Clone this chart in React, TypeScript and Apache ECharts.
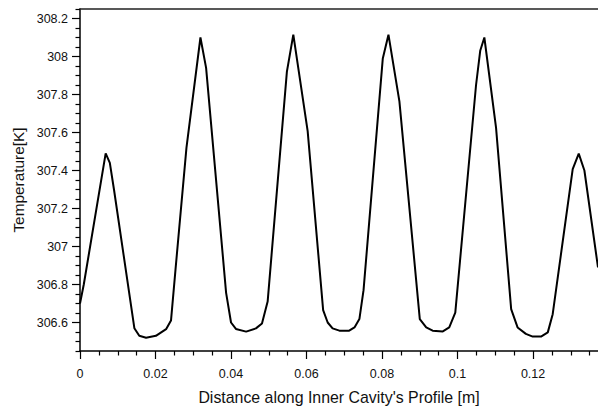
import React, { useEffect, useRef } from "react";
import * as echarts from "echarts";

// Distance along profile [m]
const distance: number[] = [
  0.0, 0.001, 0.0068, 0.0079, 0.009, 0.0144, 0.0157, 0.0175, 0.0201, 0.0228, 0.0241,
  0.0253, 0.0282, 0.0319, 0.0334, 0.0387, 0.04, 0.0413, 0.044, 0.0466, 0.0482, 0.0497,
  0.0548, 0.0565, 0.0603, 0.0644, 0.0656, 0.0669, 0.0687, 0.0713, 0.0727, 0.074, 0.0751,
  0.0802, 0.0817, 0.0846, 0.09, 0.0917, 0.0934, 0.0961, 0.0978, 0.0994,
  0.1049, 0.106, 0.1071, 0.1102, 0.1142, 0.1159, 0.1181, 0.1199, 0.1221, 0.1239, 0.1252,
  0.1305, 0.1321, 0.1336, 0.1372,
];
// Temperature [K]
const temperature: number[] = [
  306.7, 306.8, 307.49, 307.44, 307.3, 306.57, 306.53, 306.52, 306.53, 306.565, 306.61,
  306.88, 307.52, 308.1, 307.94, 306.756, 306.6, 306.566, 306.552, 306.569, 306.595, 306.71,
  307.92, 308.115, 307.607, 306.665, 306.6, 306.569, 306.557, 306.557, 306.574, 306.618, 306.77,
  307.99, 308.115, 307.764, 306.618, 306.574, 306.557, 306.553, 306.574, 306.652,
  307.85, 308.03, 308.1, 307.624, 306.67, 306.574, 306.54, 306.526, 306.526, 306.548, 306.644,
  307.407, 307.489, 307.4, 306.89,
];

const xMajorTicks: number[] = [0, 0.02, 0.04, 0.06, 0.08, 0.1, 0.12];
const yMajorTicks: number[] = [306.6, 306.8, 307, 307.2, 307.4, 307.6, 307.8, 308, 308.2];

const X_MIN = 0;
const X_MAX = 0.1372;
const Y_MIN = 306.45;
const Y_MAX = 308.25;

function minorValues(min: number, max: number, step: number, majors: number[]): number[] {
  const out: number[] = [];
  const n = Math.round((max - min) / step);
  for (let i = 0; i <= n; i++) {
    const v = Math.round((min + i * step) * 10000) / 10000;
    if (v > max + 1e-9) break;
    if (!majors.some((m) => Math.abs(m - v) < 1e-9)) out.push(v);
  }
  return out;
}

const FONT = "'Liberation Sans', Arial, Helvetica, sans-serif";

export default function App() {
  const ref = useRef<HTMLDivElement>(null);

  useEffect(() => {
    if (!ref.current) return;
    const chart = echarts.init(ref.current, null, { renderer: "svg" });
    const data = distance.map((d, i) => [d, temperature[i]]);
    const xMinor = minorValues(0, 0.135, 0.005, xMajorTicks);
    const yMinor = minorValues(Y_MIN, Y_MAX, 0.05, yMajorTicks);

    const axisLineStyle = { color: "#000", width: 1.5 };
    const tickStyle = { color: "#000", width: 1.2 };
    const labelStyle = { color: "#111", fontSize: 12.5, fontFamily: FONT };

    chart.setOption({
      animation: false,
      backgroundColor: "#fff",
      grid: { left: 80, top: 9, right: 0, bottom: 55, containLabel: false },
      xAxis: [
        {
          type: "value",
          position: "bottom",
          min: X_MIN,
          max: X_MAX,
          interval: 0.02,
          splitLine: { show: false },
          axisLine: { show: true, onZero: false, lineStyle: axisLineStyle },
          axisTick: { show: true, inside: false, length: 8, lineStyle: tickStyle, customValues: xMajorTicks },
          axisLabel: { ...labelStyle, margin: 16, customValues: xMajorTicks },
          name: "Distance along Inner Cavity's Profile [m]",
          nameLocation: "middle",
          nameGap: 38,
          nameTextStyle: { color: "#111", fontSize: 15.9, fontFamily: FONT },
        },
        {
          type: "value",
          position: "bottom",
          min: X_MIN,
          max: X_MAX,
          splitLine: { show: false },
          axisLine: { show: false, onZero: false },
          axisTick: { show: true, inside: false, length: 4.5, lineStyle: tickStyle, customValues: xMinor },
          axisLabel: { show: false },
        },
        {
          type: "value",
          position: "top",
          min: X_MIN,
          max: X_MAX,
          splitLine: { show: false },
          axisLine: { show: true, onZero: false, lineStyle: { color: "#222", width: 1.5 } },
          axisTick: { show: false },
          axisLabel: { show: false },
        },
      ],
      yAxis: [
        {
          type: "value",
          position: "left",
          min: Y_MIN,
          max: Y_MAX,
          splitLine: { show: false },
          axisLine: { show: true, onZero: false, lineStyle: axisLineStyle },
          axisTick: { show: true, inside: false, length: 8, lineStyle: tickStyle, customValues: yMajorTicks },
          axisLabel: {
            ...labelStyle,
            margin: 12,
            customValues: yMajorTicks,
            formatter: (v: number) => String(Number(v.toFixed(1))),
          },
          name: "Temperature[K]",
          nameLocation: "middle",
          nameGap: 51,
          nameTextStyle: { color: "#111", fontSize: 15.4, fontFamily: FONT },
        },
        {
          type: "value",
          position: "left",
          min: Y_MIN,
          max: Y_MAX,
          splitLine: { show: false },
          axisLine: { show: false, onZero: false },
          axisTick: { show: true, inside: false, length: 4.5, lineStyle: tickStyle, customValues: yMinor },
          axisLabel: { show: false },
        },
      ],
      series: [
        {
          type: "line",
          xAxisIndex: 0,
          yAxisIndex: 0,
          data,
          showSymbol: false,
          symbol: "none",
          smooth: false,
          lineStyle: { color: "#000", width: 2 },
          clip: true,
        },
      ],
    });

    return () => {
      chart.dispose();
    };
  }, []);

  return (
    <div
      ref={ref}
      style={{ position: "fixed", left: 0, top: 0, width: 598, height: 410, background: "#fff" }}
    />
  );
}
